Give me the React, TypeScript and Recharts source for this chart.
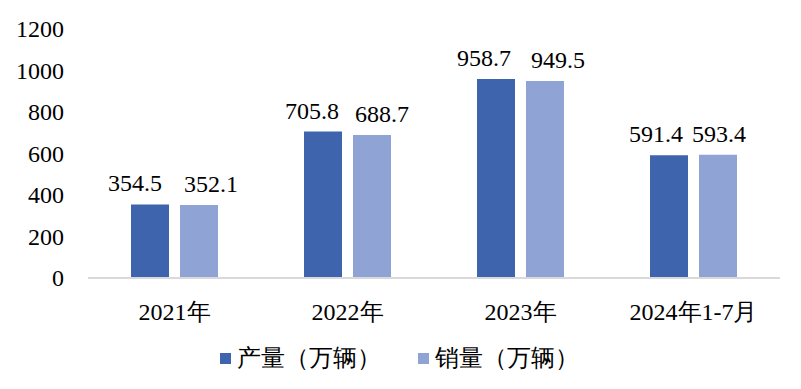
import { Bar, BarChart, Legend, XAxis, YAxis } from "recharts";

const categories = ["2021年", "2022年", "2023年", "2024年1-7月"];
const production = [354.5, 705.8, 958.7, 591.4];
const sales = [352.1, 688.7, 949.5, 593.4];
const yTicks = [0, 200, 400, 600, 800, 1000, 1200];

const seriesNames = ["产量（万辆）", "销量（万辆）"];
const COLORS = ["#3D64AD", "#8FA4D4"];

// small sideways nudges of the value labels, as in the original
const prodLabelShift = [-15, -11, -12, -13];
const salesLabelShift = [12, 10, 13, 1];

const FONT = "Liberation Serif";

const data = categories.map((name, i) => ({
   name,
   production: production[i],
   sales: sales[i],
}));

function makeLabel(shift: number[]) {
   return (props: any) => {
      const { x, y, width, value, index } = props;
      return (
         <text
            x={x + width / 2 + shift[index]}
            y={y - 13}
            textAnchor="middle"
            fill="#000"
            fontSize={24}
            fontFamily={FONT}
         >
            {value}
         </text>
      );
   };
}

function XTick(props: any) {
   const { x, y, payload } = props;
   return (
      <text
         x={x}
         y={y + 17}
         textAnchor="middle"
         fill="#000"
         fontSize={24}
         fontFamily={FONT}
      >
         {payload.value}
      </text>
   );
}

function YTick(props: any) {
   const { x, y, payload } = props;
   return (
      <text
         x={x}
         y={y + 8}
         textAnchor="end"
         fill="#000"
         fontSize={24}
         fontFamily={FONT}
      >
         {payload.value}
      </text>
   );
}

function LegendContent() {
   return (
      <div
         style={{
            display: "flex",
            alignItems: "center",
            height: 30,
            paddingLeft: 212,
            fontFamily: FONT,
            fontSize: 24,
            color: "#000",
         }}
      >
         {seriesNames.map((n, i) => (
            <div
               key={n}
               style={{
                  display: "flex",
                  alignItems: "center",
                  marginRight: 37,
               }}
            >
               <span
                  style={{
                     width: 11,
                     height: 11,
                     background: COLORS[i],
                     marginRight: 6,
                     display: "inline-block",
                  }}
               />
               <span>{n}</span>
            </div>
         ))}
      </div>
   );
}

export default function App() {
   return (
      <BarChart
         width={785}
         height={375}
         data={data}
         margin={{ top: 21, right: 13, left: 8, bottom: 10 }}
         barSize={38}
         barGap={11}
      >
         <XAxis
            dataKey="name"
            height={65}
            tickSize={0}
            tickMargin={25}
            axisLine={{ stroke: "#D9D9D9", strokeWidth: 2 }}
            tick={<XTick />}
         />
         <YAxis
            width={72}
            domain={[0, 1200]}
            ticks={yTicks}
            axisLine={false}
            tickSize={0}
            tickMargin={24}
            tick={<YTick />}
         />
         <Legend
            verticalAlign="bottom"
            content={<LegendContent />}
            wrapperStyle={{ left: 0, width: 785 }}
         />
         <Bar
            dataKey="production"
            name={seriesNames[0]}
            fill={COLORS[0]}
            isAnimationActive={false}
            label={makeLabel(prodLabelShift)}
         />
         <Bar
            dataKey="sales"
            name={seriesNames[1]}
            fill={COLORS[1]}
            isAnimationActive={false}
            label={makeLabel(salesLabelShift)}
         />
      </BarChart>
   );
}
